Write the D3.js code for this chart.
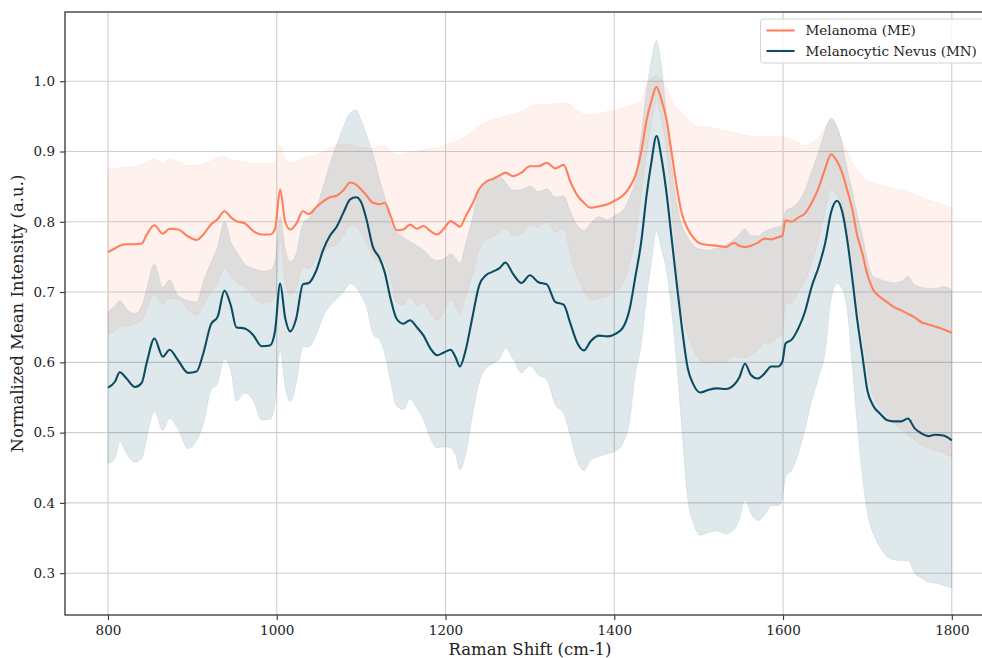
<!DOCTYPE html>
<html>
<head>
<meta charset="utf-8">
<script src="https://cdn.jsdelivr.net/npm/d3@7"></script>
<style>
  html, body { margin: 0; padding: 0; background: #ffffff; }
  svg { display: block; font-family: "DejaVu Serif", serif; }
</style>
</head>
<body>
<svg id="chart" width="982" height="658"></svg>
<script>
// ---------------- data ----------------
const wavenumber = [800,808,814,822,832,840,846,855,865,873,
 883,895,905,913,922,930,938,946,952,962,
 972,982,992,998,1004,1010,1016,1023,1031,1038,
 1047,1055,1063,1071,1079,1087,1094,1100,1106,1114,
 1122,1128,1135,1142,1150,1158,1166,1174,1182,1190,
 1198,1206,1212,1217,1224,1232,1240,1248,1256,1264,
 1271,1280,1290,1300,1310,1320,1330,1340,1348,1356,
 1364,1372,1382,1392,1402,1410,1418,1425,1432,1438,
 1444,1450,1456,1462,1468,1474,1480,1487,1494,1502,
 1512,1522,1532,1542,1548,1555,1562,1570,1578,1586,
 1594,1599,1603,1610,1618,1626,1634,1642,1650,1657,
 1664,1670,1676,1682,1688,1694,1700,1707,1715,1723,
 1731,1740,1748,1756,1764,1772,1780,1790,1800];

const meMean = [0.757,0.762,0.766,0.768,0.768,0.769,0.782,0.795,0.783,0.790,
 0.789,0.779,0.774,0.782,0.796,0.804,0.815,0.806,0.801,0.798,
 0.787,0.782,0.782,0.790,0.846,0.800,0.789,0.797,0.815,0.811,
 0.821,0.829,0.835,0.837,0.845,0.856,0.853,0.846,0.838,0.827,
 0.825,0.827,0.808,0.788,0.789,0.796,0.790,0.794,0.787,0.782,
 0.790,0.801,0.797,0.793,0.808,0.826,0.847,0.857,0.861,0.866,
 0.870,0.865,0.870,0.879,0.879,0.884,0.876,0.881,0.857,0.838,
 0.827,0.820,0.822,0.825,0.831,0.837,0.849,0.866,0.900,0.943,
 0.972,0.992,0.973,0.945,0.898,0.850,0.812,0.790,0.777,0.769,
 0.767,0.766,0.764,0.770,0.766,0.764,0.766,0.770,0.776,0.775,
 0.778,0.780,0.802,0.800,0.806,0.812,0.827,0.848,0.876,0.896,
 0.886,0.870,0.845,0.818,0.780,0.755,0.725,0.703,0.693,0.686,
 0.679,0.674,0.669,0.664,0.657,0.654,0.651,0.647,0.642];

const meUpper = [0.874,0.876,0.877,0.878,0.879,0.881,0.885,0.889,0.883,0.889,
 0.886,0.880,0.880,0.882,0.886,0.891,0.893,0.888,0.887,0.885,
 0.883,0.883,0.883,0.886,0.909,0.889,0.884,0.885,0.891,0.893,
 0.895,0.900,0.906,0.909,0.911,0.910,0.907,0.906,0.905,0.904,
 0.907,0.908,0.901,0.895,0.896,0.899,0.900,0.902,0.904,0.905,
 0.909,0.912,0.914,0.917,0.922,0.929,0.937,0.941,0.945,0.948,
 0.950,0.953,0.957,0.964,0.966,0.967,0.968,0.969,0.966,0.958,
 0.953,0.952,0.954,0.957,0.959,0.962,0.965,0.967,0.972,0.995,
 1.004,1.007,1.002,0.990,0.972,0.960,0.955,0.945,0.938,0.935,
 0.935,0.932,0.929,0.927,0.925,0.923,0.922,0.921,0.921,0.921,
 0.921,0.921,0.920,0.917,0.913,0.908,0.912,0.920,0.935,0.945,
 0.935,0.915,0.900,0.885,0.874,0.866,0.859,0.855,0.852,0.850,
 0.847,0.845,0.842,0.839,0.835,0.831,0.828,0.824,0.820];

const meLower = [0.639,0.645,0.650,0.652,0.655,0.660,0.675,0.697,0.683,0.691,
 0.690,0.674,0.667,0.680,0.700,0.713,0.734,0.722,0.714,0.708,
 0.694,0.684,0.685,0.695,0.775,0.715,0.696,0.705,0.736,0.733,
 0.748,0.756,0.764,0.768,0.780,0.795,0.793,0.784,0.770,0.750,
 0.744,0.744,0.718,0.685,0.682,0.693,0.682,0.685,0.670,0.660,
 0.672,0.690,0.680,0.670,0.695,0.725,0.760,0.775,0.778,0.785,
 0.791,0.780,0.783,0.795,0.792,0.800,0.785,0.792,0.752,0.722,
 0.702,0.689,0.691,0.694,0.703,0.712,0.740,0.780,0.840,0.895,
 0.940,0.970,0.945,0.900,0.824,0.740,0.675,0.640,0.618,0.603,
 0.599,0.600,0.600,0.610,0.607,0.607,0.610,0.618,0.628,0.628,
 0.636,0.640,0.684,0.684,0.700,0.716,0.742,0.776,0.817,0.847,
 0.837,0.825,0.790,0.751,0.686,0.644,0.591,0.552,0.535,0.524,
 0.513,0.505,0.497,0.490,0.482,0.478,0.475,0.471,0.465];

const mnMean = [0.564,0.572,0.586,0.577,0.565,0.571,0.600,0.634,0.608,0.618,
 0.603,0.585,0.587,0.613,0.654,0.665,0.702,0.679,0.650,0.648,
 0.639,0.623,0.624,0.645,0.712,0.663,0.644,0.662,0.711,0.713,
 0.731,0.760,0.780,0.793,0.813,0.832,0.835,0.828,0.805,0.764,
 0.748,0.728,0.690,0.662,0.655,0.660,0.650,0.638,0.620,0.610,
 0.614,0.618,0.607,0.594,0.618,0.665,0.710,0.724,0.729,0.734,
 0.742,0.726,0.713,0.724,0.714,0.711,0.686,0.682,0.655,0.628,
 0.617,0.630,0.638,0.637,0.641,0.649,0.675,0.722,0.772,0.835,
 0.885,0.922,0.890,0.840,0.776,0.712,0.651,0.592,0.568,0.557,
 0.561,0.563,0.562,0.568,0.578,0.598,0.582,0.577,0.584,0.594,
 0.594,0.600,0.627,0.632,0.648,0.672,0.708,0.735,0.770,0.814,
 0.830,0.815,0.775,0.720,0.660,0.610,0.560,0.538,0.527,0.518,
 0.516,0.516,0.520,0.506,0.499,0.495,0.497,0.496,0.489];

const mnUpper = [0.672,0.680,0.688,0.676,0.669,0.680,0.705,0.740,0.707,0.717,
 0.695,0.688,0.686,0.715,0.742,0.765,0.800,0.770,0.758,0.740,
 0.734,0.730,0.731,0.745,0.807,0.762,0.743,0.755,0.798,0.805,
 0.822,0.850,0.883,0.910,0.935,0.955,0.959,0.945,0.925,0.897,
 0.860,0.835,0.800,0.785,0.778,0.772,0.766,0.760,0.750,0.745,
 0.747,0.755,0.748,0.741,0.770,0.805,0.848,0.856,0.860,0.866,
 0.856,0.845,0.846,0.851,0.843,0.847,0.835,0.837,0.815,0.795,
 0.788,0.798,0.807,0.803,0.810,0.816,0.835,0.860,0.925,0.985,
 1.030,1.058,1.020,0.950,0.880,0.826,0.795,0.778,0.766,0.761,
 0.760,0.763,0.767,0.775,0.782,0.790,0.780,0.780,0.786,0.790,
 0.793,0.795,0.816,0.820,0.828,0.845,0.872,0.900,0.930,0.948,
 0.935,0.912,0.875,0.845,0.810,0.782,0.745,0.722,0.718,0.715,
 0.713,0.715,0.722,0.710,0.707,0.705,0.705,0.708,0.703];

const mnLower = [0.456,0.462,0.487,0.470,0.458,0.463,0.493,0.530,0.503,0.520,
 0.505,0.477,0.489,0.512,0.560,0.570,0.605,0.585,0.545,0.556,
 0.546,0.518,0.519,0.540,0.617,0.565,0.544,0.570,0.622,0.622,
 0.640,0.665,0.680,0.690,0.700,0.712,0.707,0.695,0.680,0.640,
 0.632,0.612,0.572,0.538,0.533,0.548,0.535,0.518,0.492,0.478,
 0.480,0.478,0.468,0.447,0.470,0.525,0.572,0.592,0.598,0.605,
 0.620,0.605,0.585,0.595,0.582,0.575,0.540,0.527,0.495,0.460,
 0.446,0.461,0.466,0.470,0.474,0.484,0.515,0.584,0.625,0.690,
 0.742,0.786,0.760,0.730,0.672,0.598,0.507,0.406,0.370,0.354,
 0.358,0.360,0.356,0.362,0.376,0.404,0.385,0.375,0.383,0.396,
 0.396,0.405,0.437,0.446,0.470,0.505,0.545,0.578,0.615,0.690,
 0.712,0.705,0.675,0.595,0.510,0.438,0.385,0.356,0.337,0.324,
 0.319,0.318,0.318,0.300,0.293,0.287,0.286,0.283,0.279];

const xTicks = [800, 1000, 1200, 1400, 1600, 1800];
const yTicks = [0.3, 0.4, 0.5, 0.6, 0.7, 0.8, 0.9, 1.0];
const seriesNames = ["Melanoma (ME)", "Melanocytic Nevus (MN)"];
const seriesColors = ["#ff7f5a", "#0b4c63"];
const xLabel = "Raman Shift (cm-1)";
const yLabel = "Normalized Mean Intensity (a.u.)";

// ---------------- layout ----------------
const W = 982, H = 658;
const plot = { left: 65, top: 12, right: 994, bottom: 615 };

const svg = d3.select("#chart");

const x = d3.scaleLinear().domain([750, 1850]).range([plot.left + 0.8, plot.right]);
const y = d3.scaleLinear().domain([0.2405, 1.0985]).range([plot.bottom, plot.top]);

const n = Math.min(wavenumber.length, meMean.length, meUpper.length, meLower.length,
                   mnMean.length, mnUpper.length, mnLower.length);
const idx = d3.range(n);

svg.append("defs").append("clipPath").attr("id", "clip")
  .append("rect")
  .attr("x", plot.left).attr("y", plot.top)
  .attr("width", plot.right - plot.left).attr("height", plot.bottom - plot.top);

// grid
const grid = svg.append("g").attr("class", "grid");
grid.selectAll("line.gx").data(xTicks).join("line")
  .attr("x1", d => x(d)).attr("x2", d => x(d))
  .attr("y1", plot.top).attr("y2", plot.bottom)
  .attr("stroke", "#cfcfcf").attr("stroke-width", 1.1);
grid.selectAll("line.gy").data(yTicks).join("line")
  .attr("x1", plot.left).attr("x2", plot.right)
  .attr("y1", d => y(d)).attr("y2", d => y(d))
  .attr("stroke", "#cfcfcf").attr("stroke-width", 1.1);

const g = svg.append("g").attr("clip-path", "url(#clip)");
const curve = d3.curveMonotoneX;

function band(upper, lower) {
  return d3.area()
    .x(i => x(wavenumber[i]))
    .y0(i => y(lower[i]))
    .y1(i => y(upper[i]))
    .curve(curve)(idx);
}
function line(vals) {
  return d3.line().x(i => x(wavenumber[i])).y(i => y(vals[i])).curve(curve)(idx);
}

// bands
g.append("path").attr("d", band(meUpper, meLower))
  .attr("fill", seriesColors[0]).attr("fill-opacity", 0.1)
  .attr("stroke", seriesColors[0]).attr("stroke-opacity", 0.1).attr("stroke-width", 1);
g.append("path").attr("d", band(mnUpper, mnLower))
  .attr("fill", seriesColors[1]).attr("fill-opacity", 0.13)
  .attr("stroke", seriesColors[1]).attr("stroke-opacity", 0.08).attr("stroke-width", 1);

// mean lines
g.append("path").attr("d", line(meMean))
  .attr("fill", "none").attr("stroke", seriesColors[0]).attr("stroke-width", 2.1)
  .attr("stroke-linejoin", "round");
g.append("path").attr("d", line(mnMean))
  .attr("fill", "none").attr("stroke", seriesColors[1]).attr("stroke-width", 2.1)
  .attr("stroke-linejoin", "round");

// axes
const xAxis = d3.axisBottom(x).tickValues(xTicks).tickSize(5).tickPadding(5)
  .tickFormat(d3.format("d"));
const yAxis = d3.axisLeft(y).tickValues(yTicks).tickSize(5).tickPadding(5)
  .tickFormat(d3.format(".1f"));

const gx = svg.append("g").attr("transform", `translate(0,${plot.bottom})`).call(xAxis);
const gy = svg.append("g").attr("transform", `translate(${plot.left},0)`).call(yAxis);
[gx, gy].forEach(a => {
  a.select(".domain").remove();
  a.selectAll(".tick line").attr("stroke", "#333").attr("stroke-width", 1.1);
  a.selectAll(".tick text").attr("fill", "#222")
    .style("font-family", "'DejaVu Serif', serif").style("font-size", "13.5px");
});

// frame
svg.append("rect")
  .attr("x", plot.left).attr("y", plot.top)
  .attr("width", plot.right - plot.left).attr("height", plot.bottom - plot.top)
  .attr("fill", "none").attr("stroke", "#333").attr("stroke-width", 1.3);

// axis labels
svg.append("text")
  .attr("x", (x(800) + x(1800)) / 2).attr("y", 655)
  .attr("text-anchor", "middle").attr("fill", "#222")
  .style("font-size", "16.5px")
  .text(xLabel);
svg.append("text")
  .attr("transform", `translate(23,${(plot.top + plot.bottom) / 2}) rotate(-90)`)
  .attr("text-anchor", "middle").attr("fill", "#222")
  .style("font-size", "16.5px")
  .text(yLabel);

// legend
const lg = svg.append("g").attr("transform", "translate(760.5,19)");
lg.append("rect").attr("width", 240).attr("height", 44).attr("rx", 3)
  .attr("fill", "#ffffff").attr("fill-opacity", 0.8)
  .attr("stroke", "#d4d4d4").attr("stroke-width", 1);
seriesNames.forEach((name, i) => {
  const yy = 11.5 + i * 20.5;
  lg.append("line").attr("x1", 6).attr("x2", 34).attr("y1", yy).attr("y2", yy)
    .attr("stroke", seriesColors[i]).attr("stroke-width", 2.1);
  lg.append("text").attr("x", 45).attr("y", yy + 4.7)
    .attr("fill", "#222").style("font-size", "13.5px").text(name);
});
</script>
</body>
</html>
